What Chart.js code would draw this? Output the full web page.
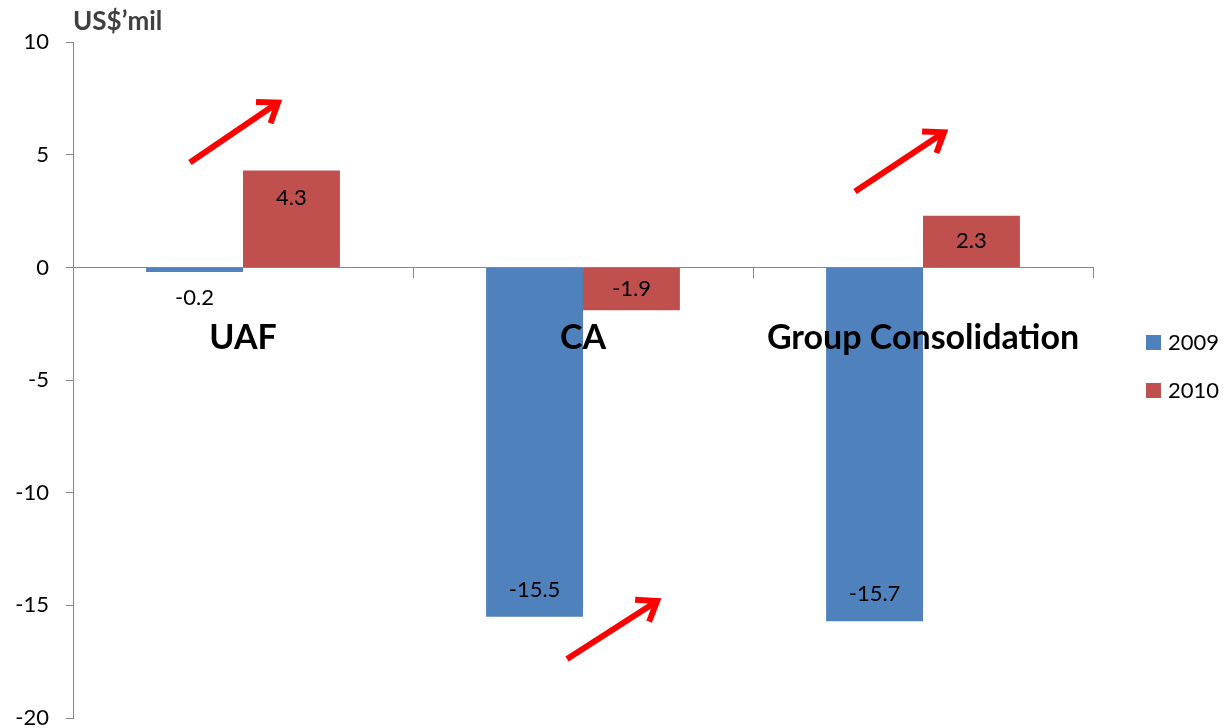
<!DOCTYPE html>
<html>
<head>
<meta charset="utf-8">
<script src="https://cdn.jsdelivr.net/npm/chart.js@4.4.0/dist/chart.umd.min.js"></script>
<style>
  html, body { margin: 0; padding: 0; background: #fff; }
</style>
</head>
<body>
<canvas id="lossChart" width="1223" height="728"></canvas>
<script>
const categories = ["UAF", "CA", "Group Consolidation"];
const series2009 = [-0.2, -15.5, -15.7];
const series2010 = [4.3, -1.9, 2.3];
const yearLabels = ["2009", "2010"];
const yTicks = [10, 5, 0, -5, -10, -15, -20];
const unitLabel = "US$\u2019mil";

// trend arrows as [category index, value] pairs
const arrows = [
  { from: [-0.156, 4.66], to: [0.103, 7.32] },
  { from: [0.953, -17.38], to: [1.218, -14.81] },
  { from: [1.8, 3.37], to: [2.062, 6.0] },
];

const FONT = "Lato";
const AXIS_GREY = "#868686";

// value labels: inside the bar end, or just outside when the bar is too thin
const barValueLabels = {
  id: "barValueLabels",
  afterDatasetsDraw(chart) {
    const ctx = chart.ctx;
    ctx.save();
    ctx.font = "22px " + FONT;
    ctx.fillStyle = "#000";
    ctx.textAlign = "center";
    ctx.textBaseline = "middle";
    chart.data.datasets.forEach((ds, di) => {
      chart.getDatasetMeta(di).data.forEach((bar, i) => {
        const v = ds.data[i];
        const h = Math.abs(bar.base - bar.y);
        const sign = v >= 0 ? 1 : -1;
        let y;
        if (h < 20) {
          y = bar.y - sign * 26;
        } else {
          y = bar.y + sign * Math.min(27, h / 2);
        }
        ctx.fillText(v.toFixed(1), bar.x, y);
      });
    });
    ctx.restore();
  },
};

// red trend arrows
const trendArrows = {
  id: "trendArrows",
  afterDraw(chart) {
    const { ctx, scales } = chart;
    ctx.save();
    ctx.strokeStyle = "#ff0000";
    ctx.lineWidth = 6;
    ctx.lineCap = "butt";
    ctx.lineJoin = "miter";
    arrows.forEach((a) => {
      const x1 = scales.x.getPixelForValue(a.from[0]);
      const y1 = scales.y.getPixelForValue(a.from[1]);
      const x2 = scales.x.getPixelForValue(a.to[0]);
      const y2 = scales.y.getPixelForValue(a.to[1]);
      const ang = Math.atan2(y2 - y1, x2 - x1);
      ctx.beginPath();
      ctx.moveTo(x1, y1);
      ctx.lineTo(x2 - 3 * Math.cos(ang), y2 - 3 * Math.sin(ang));
      ctx.stroke();
      const len = 22;
      const spread = Math.PI / 5;
      ctx.beginPath();
      ctx.moveTo(x2 - len * Math.cos(ang - spread), y2 - len * Math.sin(ang - spread));
      ctx.lineTo(x2, y2);
      ctx.lineTo(x2 - len * Math.cos(ang + spread), y2 - len * Math.sin(ang + spread));
      ctx.stroke();
    });
    ctx.restore();
  },
};

// legend on the right side
const sideLegend = {
  id: "sideLegend",
  afterDraw(chart) {
    const ctx = chart.ctx;
    const x = chart.chartArea.right + 53;
    const midY = chart.height / 2 + 2;
    ctx.save();
    ctx.font = "22px " + FONT;
    ctx.textAlign = "left";
    ctx.textBaseline = "middle";
    chart.data.datasets.forEach((ds, i) => {
      const y = midY - 24 + i * 48;
      ctx.fillStyle = ds.backgroundColor;
      ctx.fillRect(x, y - 7, 15, 15);
      ctx.fillStyle = "#000";
      ctx.fillText(ds.label, x + 22, y + 1);
    });
    ctx.restore();
  },
};

new Chart(document.getElementById("lossChart"), {
  type: "bar",
  data: {
    labels: categories,
    datasets: [
      { label: yearLabels[0], data: series2009, backgroundColor: "#4f81bd" },
      { label: yearLabels[1], data: series2010, backgroundColor: "#c0504d" },
    ],
  },
  options: {
    responsive: false,
    animation: false,
    layout: { padding: { left: 0, right: 130, top: 0, bottom: 10 } },
    datasets: { bar: { categoryPercentage: 0.57, barPercentage: 1 } },
    scales: {
      x: {
        position: { y: 0 },
        grid: { offset: true, drawOnChartArea: false, tickLength: 10, color: AXIS_GREY },
        border: { color: AXIS_GREY },
        ticks: {
          z: 1,
          padding: 40,
          autoSkip: false,
          maxRotation: 0,
          color: "#000",
          font: { family: FONT, size: 34, weight: "bold" },
        },
      },
      y: {
        min: -20,
        max: 10,
        afterFit: (s) => {
          s.width = 73;
          s.paddingTop = 0;
          s.paddingBottom = 0;
        },
        afterBuildTicks: (s) => { s.ticks = yTicks.map((v) => ({ value: v })); },
        grid: { drawOnChartArea: false, tickLength: 7, color: AXIS_GREY },
        border: { color: AXIS_GREY },
        ticks: { padding: 17, color: "#000", font: { family: FONT, size: 22 } },
      },
    },
    plugins: {
      legend: { display: false },
      tooltip: { enabled: false },
      title: {
        display: true,
        text: unitLabel,
        align: "start",
        fullSize: false,
        color: "#404040",
        font: { family: FONT, size: 26, weight: "bold" },
        padding: { top: 6, bottom: 5 },
      },
    },
  },
  plugins: [barValueLabels, trendArrows, sideLegend],
});
</script>
</body>
</html>
